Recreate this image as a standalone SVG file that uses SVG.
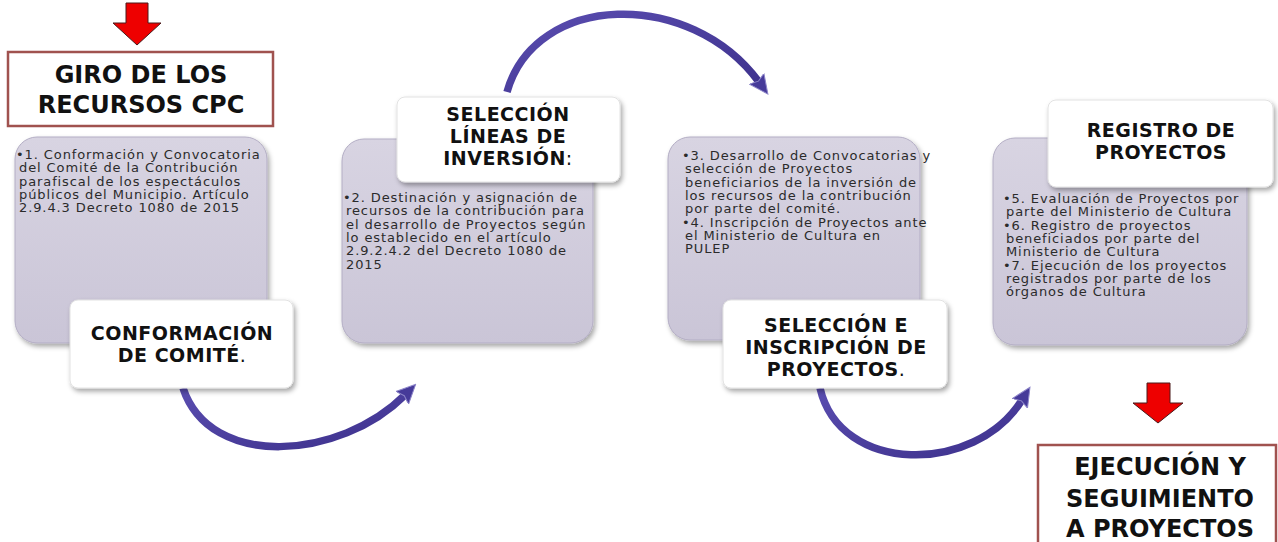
<svg xmlns="http://www.w3.org/2000/svg" width="1278" height="542" viewBox="0 0 1278 542">
<defs>
  <linearGradient id="panelGrad" x1="0" y1="0" x2="0" y2="1">
    <stop offset="0" stop-color="#d8d4e2"/>
    <stop offset="1" stop-color="#cac5d7"/>
  </linearGradient>
  <linearGradient id="arcGrad" x1="0" y1="0" x2="1" y2="1">
    <stop offset="0" stop-color="#5a4db0"/>
    <stop offset="1" stop-color="#3d318c"/>
  </linearGradient>
  <filter id="shadow" x="-10%" y="-10%" width="125%" height="130%">
    <feDropShadow dx="2" dy="3" stdDeviation="2.5" flood-color="#000" flood-opacity="0.35"/>
  </filter>
  <marker id="arrowHead" markerUnits="userSpaceOnUse" viewBox="0 0 20 20" refX="4" refY="10" markerWidth="20" markerHeight="20" orient="auto">
    <path d="M0,1 L19,10 L0,19 L3,10 z" fill="#463a99" stroke="#8c84c8" stroke-width="1"/>
  </marker>
  <style>
    .panel { fill: url(#panelGrad); stroke: #b3adc4; stroke-width: 1; filter: url(#shadow); }
    .label { fill: #ffffff; stroke: #e2e2e2; stroke-width: 1; filter: url(#shadow); }
    .body { font-family: "DejaVu Sans", Verdana, sans-serif; font-size: 13px; letter-spacing: 0.9px; fill: #2b2b2b; }
    .title { font-family: "DejaVu Sans", Verdana, sans-serif; font-weight: bold; font-size: 19px; letter-spacing: 0.5px; fill: #111; text-anchor: middle; }
    .big { font-family: "DejaVu Sans", Verdana, sans-serif; font-weight: bold; font-size: 24px; fill: #111; text-anchor: middle; }
    .punct { font-weight: normal; }
    .redbox { fill: #ffffff; stroke: #a0524f; stroke-width: 2.5; }
    .redarrow { fill: #ee0000; stroke: #4a1a1a; stroke-width: 1; }
    .arc { fill: none; stroke: url(#arcGrad); stroke-width: 7.5; stroke-linecap: butt; marker-end: url(#arrowHead); }
  </style>
</defs>

<g id="connectors">
  <path class="arc" d="M507,92 C535,-8 690,-12 759,82"/>
  <path class="arc" d="M183,388 C210,470 340,460 405,395"/>
  <path class="arc" d="M820,388 C840,475 975,475 1022,400"/>
</g>

<g id="start-arrow">
  <polygon class="redarrow" points="126,3 148,3 148,23 161,23 137,45 113,23 126,23"/>
</g>

<g id="giro">
  <rect class="redbox" x="8" y="52" width="265" height="74"/>
  <text class="big" x="141" y="83">GIRO DE LOS</text>
  <text class="big" x="141" y="113">RECURSOS CPC</text>
</g>

<g id="panel1">
  <rect class="panel" x="15" y="137" width="252" height="206" rx="22"/>
  <text class="body" x="16" y="159">•1. Conformación y Convocatoria</text>
  <text class="body" x="19" y="172.3">del Comité de la Contribución</text>
  <text class="body" x="19" y="185.6">parafiscal de los espectáculos</text>
  <text class="body" x="19" y="198.9">públicos del Municipio. Artículo</text>
  <text class="body" x="19" y="212.2">2.9.4.3 Decreto 1080 de 2015</text>
</g>

<g id="conformacion">
  <rect class="label" x="70" y="300" width="223" height="88" rx="8"/>
  <text class="title" x="182" y="340">CONFORMACIÓN</text>
  <text class="title" x="182" y="362">DE COMITÉ<tspan class="punct">.</tspan></text>
</g>

<g id="panel2">
  <rect class="panel" x="342" y="139" width="251" height="204" rx="22"/>
  <text class="body" x="343" y="202">•2. Destinación y asignación de</text>
  <text class="body" x="346" y="215.3">recursos de la contribución para</text>
  <text class="body" x="346" y="228.6">el desarrollo de Proyectos según</text>
  <text class="body" x="346" y="241.9">lo establecido en el artículo</text>
  <text class="body" x="346" y="255.2">2.9.2.4.2 del Decreto 1080 de</text>
  <text class="body" x="346" y="268.5">2015</text>
</g>

<g id="seleccion-lineas">
  <rect class="label" x="397" y="97" width="223" height="85" rx="8"/>
  <text class="title" x="508" y="121">SELECCIÓN</text>
  <text class="title" x="508" y="143">LÍNEAS DE</text>
  <text class="title" x="508" y="165">INVERSIÓN<tspan class="punct">:</tspan></text>
</g>

<g id="panel3">
  <rect class="panel" x="668" y="137" width="252" height="203" rx="22"/>
  <text class="body" x="682" y="160">•3. Desarrollo de Convocatorias y</text>
  <text class="body" x="685" y="173.3">selección de Proyectos</text>
  <text class="body" x="685" y="186.6">beneficiarios de la inversión de</text>
  <text class="body" x="685" y="199.9">los recursos de la contribución</text>
  <text class="body" x="685" y="213.2">por parte del comité.</text>
  <text class="body" x="682" y="226.5">•4. Inscripción de Proyectos ante</text>
  <text class="body" x="685" y="239.8">el Ministerio de Cultura en</text>
  <text class="body" x="685" y="253.1">PULEP</text>
</g>

<g id="seleccion-inscripcion">
  <rect class="label" x="723" y="300" width="224" height="88" rx="8"/>
  <text class="title" x="836" y="332">SELECCIÓN E</text>
  <text class="title" x="836" y="354">INSCRIPCIÓN DE</text>
  <text class="title" x="836" y="376">PROYECTOS<tspan class="punct">.</tspan></text>
</g>

<g id="panel4">
  <rect class="panel" x="993" y="138" width="254" height="207" rx="22"/>
  <text class="body" x="1003" y="203">•5. Evaluación de Proyectos por</text>
  <text class="body" x="1006" y="216.3">parte del Ministerio de Cultura</text>
  <text class="body" x="1003" y="229.6">•6. Registro de proyectos</text>
  <text class="body" x="1006" y="242.9">beneficiados por parte del</text>
  <text class="body" x="1006" y="256.2">Ministerio de Cultura</text>
  <text class="body" x="1003" y="269.5">•7. Ejecución de los proyectos</text>
  <text class="body" x="1006" y="282.8">registrados por parte de los</text>
  <text class="body" x="1006" y="296.1">órganos de Cultura</text>
</g>

<g id="registro">
  <rect class="label" x="1048" y="100" width="225" height="87" rx="8"/>
  <text class="title" x="1161" y="137">REGISTRO DE</text>
  <text class="title" x="1161" y="159">PROYECTOS</text>
</g>

<g id="end-arrow">
  <polygon class="redarrow" points="1147,383 1170,383 1170,403 1183,403 1158,423 1133,403 1147,403"/>
</g>

<g id="ejecucion">
  <rect class="redbox" x="1038" y="445" width="238" height="102"/>
  <text class="big" x="1160" y="475">EJECUCIÓN Y</text>
  <text class="big" x="1160" y="507">SEGUIMIENTO</text>
  <text class="big" x="1160" y="537">A PROYECTOS</text>
</g>
</svg>
